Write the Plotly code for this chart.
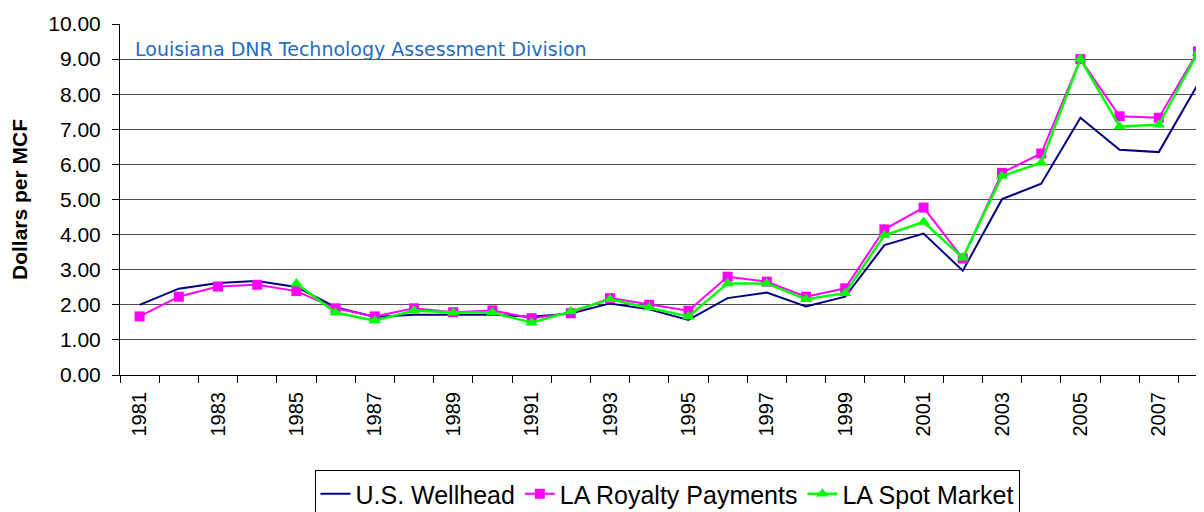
import plotly.graph_objects as go

years = list(range(1981, 2009))
us_wellhead = [2.00, 2.46, 2.62, 2.68, 2.51, 1.93, 1.65, 1.72, 1.72, 1.72, 1.66, 1.75,
               2.04, 1.87, 1.57, 2.19, 2.35, 1.95, 2.23, 3.70, 4.03, 2.97, 5.01, 5.45,
               7.33, 6.42, 6.35, 8.29]
la_royalty = [1.67, 2.23, 2.52, 2.57, 2.39, 1.90, 1.67, 1.90, 1.79, 1.84, 1.62, 1.76,
              2.19, 2.00, 1.83, 2.80, 2.66, 2.23, 2.47, 4.15, 4.77, 3.32, 5.76, 6.31,
              9.00, 7.37, 7.33, 9.22]
la_spot = [None, None, None, None, 2.61, 1.78, 1.55, 1.84, 1.78, 1.78, 1.49, 1.81,
           2.16, 1.92, 1.67, 2.61, 2.61, 2.16, 2.33, 3.98, 4.36, 3.34, 5.67, 6.05,
           9.00, 7.08, 7.13, 9.19]
label_years = list(range(1981, 2009, 2))
boundaries = [y - 0.5 for y in range(1981, 2010)]

# the page adds an 8px body margin; size and margins compensate
W, H = 1196, 504
ML, MT, MB = 112, 16, 137
PW = W - ML
PH = H - MT - MB

fig = go.Figure()
fig.add_trace(go.Scatter(x=years, y=us_wellhead, name="U.S. Wellhead", mode="lines",
                         line=dict(color="#000080", width=2)))
fig.add_trace(go.Scatter(x=years, y=la_royalty, name="LA Royalty Payments", mode="lines+markers",
                         line=dict(color="#FF00FF", width=2),
                         marker=dict(symbol="square", size=10, color="#FF00FF")))
fig.add_trace(go.Scatter(x=years, y=la_spot, name="LA Spot Market", mode="lines+markers",
                         line=dict(color="#00FF00", width=2.5),
                         marker=dict(symbol="triangle-up", size=11, color="#00FF00")))

fig.add_annotation(text="Louisiana DNR Technology Assessment Division",
                   xref="paper", yref="paper", x=(125 - ML) / PW, y=0.93,
                   xanchor="left", yanchor="middle",
                   showarrow=False, font=dict(family="DejaVu Sans", size=19, color="#1f6dbf"))

fig.update_layout(
    width=W, height=H,
    margin=dict(l=ML, r=0, t=MT, b=MB, autoexpand=False),
    plot_bgcolor="white", paper_bgcolor="white",
    font=dict(family="Liberation Sans, Arial", color="black"),
    showlegend=True,
    legend=dict(orientation="h", x=(659 - ML) / PW, xanchor="center",
                y=(MT + PH - 462) / PH, yanchor="top",
                bordercolor="black", borderwidth=1, font=dict(size=25),
                itemwidth=30),
    xaxis=dict(range=[1980.5, 1980.5 + PW / 39.2], tickmode="array", tickvals=label_years,
               ticktext=[str(y) for y in label_years], tickangle=-90,
               tickfont=dict(size=20), ticks="", showgrid=False, automargin=False,
               ticklabelstandoff=8,
               showline=True, linecolor="black", linewidth=1,
               minor=dict(tickmode="array", tickvals=boundaries, ticks="outside",
                          ticklen=7, tickcolor="black", showgrid=False)),
    yaxis=dict(range=[0, 10], dtick=1, tickformat=".2f", tickfont=dict(size=21),
               showgrid=True, gridcolor="#505050", gridwidth=1, automargin=False,
               ticklabelstandoff=7,
               showline=True, linecolor="black", linewidth=1,
               ticks="outside", ticklen=7, tickcolor="black", zeroline=False,
               title=dict(text="<b>Dollars per MCF</b>", font=dict(size=21), standoff=21)),
)

fig.write_html("out.html")
